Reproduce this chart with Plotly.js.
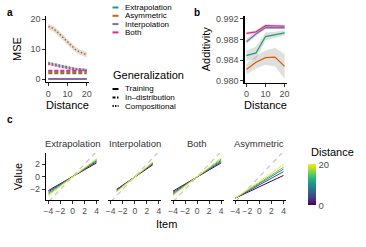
<!DOCTYPE html>
<html><head><meta charset="utf-8">
<script src="https://cdn.plot.ly/plotly-3.0.1.min.js"></script>
<style>html,body{margin:0;padding:0;background:#fff}#chart{width:366px;height:247px}</style>
</head><body><div id="chart"></div>
<script>
// ---------- data ----------
const splits = ['Extrapolation','Asymmetric','Interpolation','Both'];
const splitColors = ['#1B9E77','#D95F02','#7570B3','#E7298A'];
const genLabels = ['Training','In\u2013distribution','Compositional'];

// panel a : MSE vs distance
const distA = [0,2,4,6,8,10,12,14,16,18,20];
const mseCompExtrap = [5.6,5.3,4.9,4.6,4.3,4.0,3.8,3.6,3.5,3.4,3.3];
const mseCompAsym   = [17.6,17.1,16.2,15.0,13.7,12.3,11.1,10.0,9.2,8.6,8.2];
const mseCompInterp = [5.3,5.0,4.7,4.4,4.1,3.8,3.6,3.4,3.3,3.2,3.1];
const mseCompBoth   = [5.0,4.7,4.4,4.1,3.8,3.6,3.4,3.2,3.1,3.0,2.9];
const mseCompSe     = [0.3,0.9,0.3,0.3];
const mseIndExtrap = [1.9,1.9,1.9,1.9,1.9,1.9,1.9,1.9,1.9,1.9,1.9];
const mseIndAsym   = [2.3,2.3,2.3,2.3,2.3,2.3,2.3,2.3,2.3,2.3,2.3];
const mseIndInterp = [2.7,2.7,2.7,2.7,2.7,2.7,2.7,2.7,2.7,2.7,2.7];
const mseIndBoth   = [2.9,2.9,2.9,2.9,2.9,2.9,2.9,2.9,2.9,2.9,2.9];
const mseTrain     = [0.2,0.2,0.2,0.2,0.2,0.2,0.2,0.2,0.2,0.2,0.2];

// panel b : additivity vs distance
const distB = [0,5,10,15,20];
const addExtrap = [0.9849,0.9854,0.9886,0.9889,0.9893];
const addAsym   = [0.9822,0.9836,0.9845,0.9846,0.9828];
const addInterp = [0.9876,0.9891,0.9903,0.9903,0.9903];
const addBoth   = [0.9892,0.9895,0.9907,0.9906,0.9906];
const addSeExtrap = [0.0010,0.0012,0.0008,0.0006,0.0005];
const addSeAsym   = [0.0010,0.0012,0.0014,0.0018,0.0024];
const addSeInterp = [0.0005,0.0004,0.0003,0.0003,0.0003];
const addSeBoth   = [0.0003,0.0003,0.0003,0.0003,0.0003];

// panel c : value vs item, by distance
const distC = [0,5,10,15,20];
const viridis5 = ['#440154','#3B528B','#21908D','#5DC963','#FDE725'];
const facets = ['Extrapolation','Interpolation','Both','Asymmetric'];
const itemsWide = [-4,0,4];
const itemsInterp = [-3,0,3];
const valExtrap = [[-2.2,0,2.2],[-2.4,0,2.4],[-2.6,0,2.55],[-2.8,0,2.75],[-3.0,0,2.9]];
const valInterp = [[-2.0,0,1.9],[-2.1,0,2.05],[-2.2,0,2.15],[-2.3,0,2.25],[-2.4,0,2.35]];
const valBoth   = [[-2.3,0,2.2],[-2.5,0,2.4],[-2.7,0,2.6],[-2.85,0,2.8],[-3.0,0,3.0]];
const valAsym   = [[-3.4,-1.6,0.2],[-3.4,-1.3,0.8],[-3.4,-1.1,1.2],[-3.4,-0.95,1.5],[-3.4,-0.75,1.9]];
const identityLine = [-5,5];

// ---------- helpers ----------
const W = 366, H = 247;
const px = v => v / W;
const py = v => 1 - v / H;
const FONT = 'Liberation Sans, Arial, Helvetica, sans-serif';
const TICKC = '#4d4d4d';

function ribbon(x, y, se, xa, ya, color) {
  const hi = y.map((v,i)=>v+se[i]);
  const lo = y.map((v,i)=>v-se[i]);
  return {x: x.concat(x.slice().reverse()), y: hi.concat(lo.reverse()), xaxis: xa, yaxis: ya,
    type:'scatter', mode:'lines', fill:'toself', fillcolor: color || 'rgba(160,160,160,0.35)',
    line:{width:0}, hoverinfo:'skip', showlegend:false};
}
function line(x, y, xa, ya, color, dash, width) {
  return {x:x, y:y, xaxis:xa, yaxis:ya, type:'scatter', mode:'lines',
    line:{color:color, width:width||1.5, dash:dash||'solid'}, showlegend:false, hoverinfo:'skip'};
}

const traces = [];
// panel a
const compA = [mseCompExtrap, mseCompAsym, mseCompInterp, mseCompBoth];
const indA = [mseIndExtrap, mseIndAsym, mseIndInterp, mseIndBoth];
compA.forEach((s,i)=>traces.push(ribbon(distA, s, distA.map(()=>mseCompSe[i]), 'x','y')));
[0,1,3,2].forEach(i=>traces.push(line(distA, mseTrain, 'x','y', splitColors[i], 'solid', 1.5)));
indA.forEach((s,i)=>traces.push(line(distA, s, 'x','y', splitColors[i], '4px,2px', 1.5)));
[0,2,3,1].forEach(i=>traces.push(line(distA, compA[i], 'x','y', splitColors[i], '1.5px,2px', 1.5)));

// panel b
const addS = [addExtrap, addAsym, addInterp, addBoth];
const addSe = [addSeExtrap, addSeAsym, addSeInterp, addSeBoth];
addS.forEach((s,i)=>traces.push(ribbon(distB, s, addSe[i], 'x2','y2', 'rgba(150,150,150,0.3)')));
addS.forEach((s,i)=>traces.push(line(distB, s, 'x2','y2', splitColors[i], 'solid', 1.3)));

// panel c
const facetVals = [valExtrap, valInterp, valBoth, valAsym];
const facetItems = [itemsWide, itemsInterp, itemsWide, itemsWide];
facets.forEach((f,k)=>{
  const xa = 'x'+(k+3);
  traces.push(line(identityLine, identityLine, xa, 'y3', '#c4c4c4', '5px,4px', 1.2));
  facetVals[k].forEach((v,j)=>traces.push(line(facetItems[k], v, xa, 'y3', viridis5[j], 'solid', 1.0)));
});
// colour bar carrier (no visible marks)
traces.push({x:[null], y:[null], xaxis:'x3', yaxis:'y3', type:'scatter', mode:'markers', hoverinfo:'skip',
  showlegend:false,
  marker:{color:distC, cmin:0, cmax:20, colorscale:'Viridis', size:0, showscale:true,
    colorbar:{thickness:8, thicknessmode:'pixels', len:41, lenmode:'pixels',
      x:px(308), xanchor:'left', y:py(185), yanchor:'middle', xpad:0, ypad:0,
      outlinewidth:0, tickvals:[0,20], ticks:'', ticklabelposition:'outside',
      tickfont:{size:9.5, color:TICKC, family:FONT}}}});

// ---------- layout ----------
function ax(extra) {
  return Object.assign({showline:true, linecolor:'#000', linewidth:1.1, ticks:'outside', ticklen:3,
    tickcolor:'#333', tickwidth:1, tickfont:{size:9, color:TICKC, family:FONT}, tickangle:0,
    showgrid:false, zeroline:false, fixedrange:true}, extra);
}
const layout = {
  width:W, height:H, margin:{l:0,r:0,t:0,b:0}, paper_bgcolor:'#fff', plot_bgcolor:'rgba(0,0,0,0)',
  font:{family:FONT}, showlegend:false,
  xaxis: ax({domain:[px(46.4),px(88.6)], range:[-1,21], tickvals:[0,10,20], anchor:'y',
    title:{text:'Distance', font:{size:11,color:'#000'}, standoff:1}}),
  yaxis: ax({domain:[py(82),py(16)], range:[-0.9,21.1], tickvals:[0,10,20], anchor:'x',
    title:{text:'MSE', font:{size:11,color:'#000'}, standoff:6}}),
  xaxis2: ax({domain:[px(244.5),px(286.5)], range:[-1,21], tickvals:[0,10,20], anchor:'y2',
    title:{text:'Distance', font:{size:11,color:'#000'}, standoff:1}}),
  yaxis2: ax({domain:[py(82.5),py(16)], range:[0.97967,0.99258], tickvals:[0.980,0.984,0.988,0.992],
    tickformat:'.3f', anchor:'x2', title:{text:'Additivity', font:{size:11,color:'#000'}, standoff:3}}),
  yaxis3: ax({domain:[py(200),py(153)], range:[-3.7,3.76], tickvals:[-2,0,2], anchor:'x3',
    title:{text:'Value', font:{size:11,color:'#000'}, standoff:5}}),
  shapes:[], annotations:[]
};
const facetStart = [46, 108.3, 170.6, 232.9];
facetStart.forEach((s,k)=>{
  layout['xaxis'+(k+3)] = ax({domain:[px(s),px(s+53)], range:[-4.4,4.4], tickvals:[-4,-2,0,2,4],
    anchor:'y3', tickfont:{size:8.5, color:TICKC, family:FONT}});
  layout.annotations.push({text:facets[k], x:px(s+26.5), y:py(143), xref:'paper', yref:'paper',
    showarrow:false, xanchor:'center', yanchor:'middle', font:{size:9.5, color:'#333', family:FONT}});
});
layout.annotations.push({text:'Item', x:px(166), y:py(224), xref:'paper', yref:'paper', showarrow:false,
  xanchor:'center', yanchor:'middle', font:{size:11, color:'#000', family:FONT}});
layout.annotations.push({text:'Distance', x:px(308.5), y:py(151.5), xref:'paper', yref:'paper', showarrow:false,
  xanchor:'left', yanchor:'middle', font:{size:11, color:'#000', family:FONT}});
// panel tags
[['a',10,12],['b',197,13],['c',10,119]].forEach(t=>layout.annotations.push({text:'<b>'+t[0]+'</b>',
  x:px(t[1]), y:py(t[2]), xref:'paper', yref:'paper', showarrow:false, xanchor:'center', yanchor:'middle',
  font:{size:10, color:'#000', family:FONT}}));
// legends (drawn as keys + text)
const legRowsA = [7.5,15.8,24.1,32.4];
splits.forEach((s,i)=>{
  layout.shapes.push({type:'line', xref:'paper', yref:'paper', x0:px(112.5), x1:px(118.5),
    y0:py(legRowsA[i]), y1:py(legRowsA[i]), line:{color:splitColors[i], width:2}});
  layout.annotations.push({text:s, x:px(123), y:py(legRowsA[i]), xref:'paper', yref:'paper',
    showarrow:false, xanchor:'left', yanchor:'middle', font:{size:8, color:'#000', family:FONT}});
});
layout.annotations.push({text:'Generalization', x:px(111), y:py(75), xref:'paper', yref:'paper',
  showarrow:false, xanchor:'left', yanchor:'middle', font:{size:11, color:'#000', family:FONT}});
const legRowsB = [89,97.5,106];
const legDash = ['solid','3px,1.5px','1.3px,1.3px'];
genLabels.forEach((g,i)=>{
  layout.shapes.push({type:'line', xref:'paper', yref:'paper', x0:px(112.5), x1:px(118.5),
    y0:py(legRowsB[i]), y1:py(legRowsB[i]), line:{color:'#000', width:2, dash:legDash[i]}});
  layout.annotations.push({text:g, x:px(123), y:py(legRowsB[i]), xref:'paper', yref:'paper',
    showarrow:false, xanchor:'left', yanchor:'middle', font:{size:8, color:'#000', family:FONT}});
});

Plotly.newPlot('chart', traces, layout, {staticPlot:true, displayModeBar:false});
</script></body></html>
